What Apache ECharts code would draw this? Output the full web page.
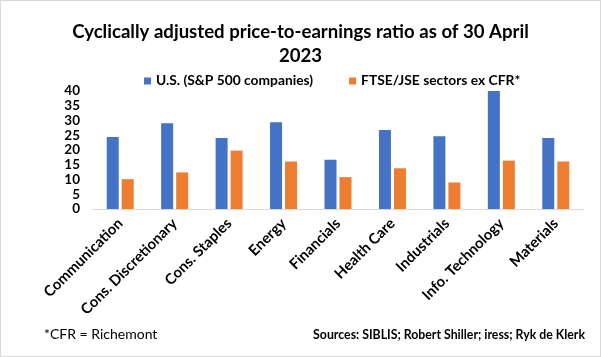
<!DOCTYPE html>
<html>
<head>
<meta charset="utf-8">
<script src="https://cdn.jsdelivr.net/npm/echarts@6/dist/echarts.min.js"></script>
<style>
html,body{margin:0;padding:0;background:#fff;}
#c{width:601px;height:357px;box-sizing:border-box;border:1px solid #d9d9d9;}
</style>
</head>
<body>
<div id="c"></div>
<script>
const categories = ["Communication","Cons. Discretionary","Cons. Staples","Energy","Financials","Health Care","Industrials","Info. Technology","Materials"];
const usValues = [24.4, 29.1, 24.1, 29.4, 16.7, 26.8, 24.7, 40.3, 24.1];
const jseValues = [10.1, 12.4, 19.8, 16.1, 10.8, 13.8, 9.0, 16.4, 16.1];
const seriesNames = ["U.S. (S&P 500 companies)", "FTSE/JSE sectors ex CFR*"];
const titleText = "Cyclically adjusted price-to-earnings ratio as of 30 April\n2023";
const noteText = "*CFR = Richemont";
const sourceText = "Sources: SIBLIS; Robert Shiller; iress; Ryk de Klerk";

const font = "Lato, 'Liberation Sans', sans-serif";
const chart = echarts.init(document.getElementById('c'));
chart.setOption({
  animation: false,
  title: {
    text: titleText,
    left: 'center',
    top: 14,
    textStyle: {fontFamily: font, fontSize: 18.6, fontWeight: 'bold', color: '#000', lineHeight: 24}
  },
  legend: {
    top: 68,
    left: 138,
    itemWidth: 7,
    itemHeight: 7,
    itemGap: 36,
    icon: 'rect',
    textStyle: {fontFamily: font, fontSize: 13.8, fontWeight: 'bold', color: '#000'},
    data: seriesNames
  },
  grid: {left: 92, right: 17, top: 90, bottom: 147, containLabel: false},
  xAxis: {
    type: 'category',
    data: categories,
    axisLine: {lineStyle: {color: '#d9d9d9'}},
    axisTick: {show: false},
    axisLabel: {rotate: 45, interval: 0, fontFamily: font, fontSize: 14.8, fontWeight: 'bold', color: '#000', margin: 12}
  },
  yAxis: {
    type: 'value',
    min: 0, max: 40, interval: 5,
    splitLine: {show: false},
    axisLine: {show: false},
    axisTick: {show: false},
    axisLabel: {fontFamily: font, fontSize: 13.5, fontWeight: 'bold', color: '#000', margin: 13}
  },
  series: [
    {name: seriesNames[0], type: 'bar', data: usValues, itemStyle: {color: '#4472C4'}, barWidth: 12, barGap: '25%'},
    {name: seriesNames[1], type: 'bar', data: jseValues, itemStyle: {color: '#ED7D31'}, barWidth: 12, barGap: '25%'}
  ],
  graphic: [
    {type: 'text', left: 43, top: 326, style: {text: noteText, fontFamily: font, fontSize: 14, fill: '#000'}},
    {type: 'text', right: 15, top: 328, style: {text: sourceText, fontFamily: font, fontSize: 12.3, fontWeight: 'bold', fill: '#000'}}
  ]
});
</script>
</body>
</html>
